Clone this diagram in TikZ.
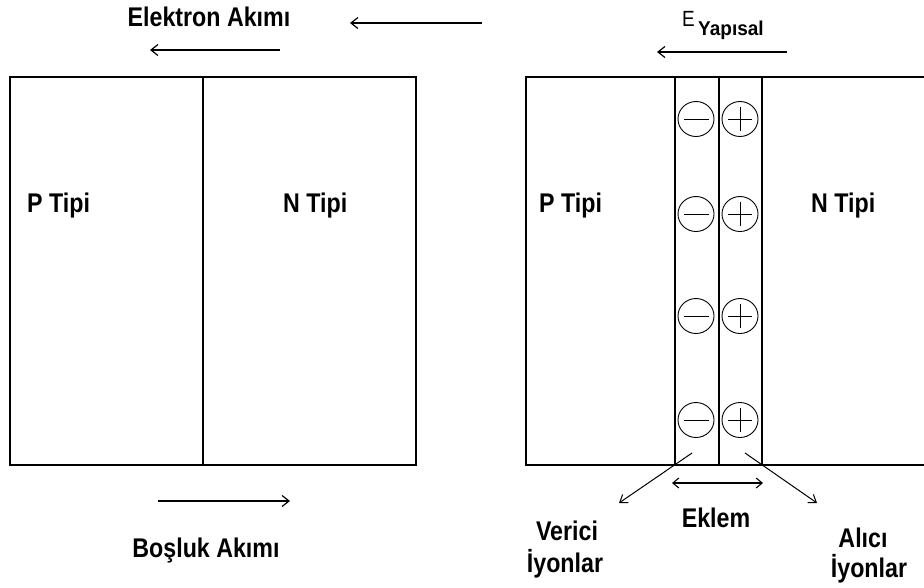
\documentclass[tikz,border=0pt]{standalone}
\usepackage{fontspec}
\setmainfont{Liberation Sans}
\newfontfamily\labfont{Liberation Sans}[FakeStretch=0.86]
\newfontfamily\subfont{Liberation Sans}[FakeStretch=0.95]
\usetikzlibrary{arrows.meta}
\tikzset{
  x=1pt,y=-1pt,
  lab/.style={inner sep=0pt,font=\labfont\bfseries\fontsize{27}{30}\selectfont},
  edge/.style={line width=1.4pt},
  thinl/.style={line width=0.9pt},
  arr/.style={line width=1.4pt,-{Straight Barb[length=7pt,width=11pt,line width=1.2pt]}},
  darr/.style={line width=1.3pt,{Straight Barb[length=6pt,width=10pt,line width=1.1pt]}-{Straight Barb[length=6pt,width=10pt,line width=1.1pt]}},
  iarr/.style={line width=1pt,-{Straight Barb[length=7pt,width=10pt,line width=1pt]}},
  ion/.style={ellipse,draw,line width=0.9pt,minimum width=36pt,minimum height=35pt,inner sep=0pt},
}
\usetikzlibrary{shapes.geometric}
\begin{document}
\begin{tikzpicture}
\useasboundingbox (0,0) rectangle (924,587);
% left box
\draw[edge] (10,77) rectangle (416,465);
\draw[edge] (203,77) -- (203,465);
% right box
\draw[edge] (924,77) -- (526,77) -- (526,465) -- (924,465);
\foreach \xx in {675,719,762} \draw[edge] (\xx,77) -- (\xx,465);
% ions
\foreach \yy [count=\i] in {119,214,316,420} {
  \node[ion] (m\i) at (696,\yy) {};
  \node[ion] (p\i) at (740,\yy) {};
  \draw[thinl] ([xshift=-12pt]m\i.center) -- ([xshift=13pt]m\i.center);
  \draw[thinl] ([xshift=-12pt]p\i.center) -- ([xshift=12pt]p\i.center);
  \draw[thinl] ([yshift=-12pt]p\i.center) -- ([yshift=12pt]p\i.center);
}
% labels
\node[lab,anchor=base west] (pl) at (27,212) {P Tipi};
\node[lab,anchor=base west] (nl) at (283,212) {N Tipi};
\node[lab,anchor=base west] (pr) at (539,212) {P Tipi};
\node[lab,anchor=base west] (nr) at (811,212) {N Tipi};
\node[lab,anchor=base] (ea) at (209,26) {Elektron Akımı};
\node[lab,anchor=base] (ba) at (206,557) {Boşluk Akımı};
\node[lab,anchor=base] (ek) at (716,527) {Eklem};
\node[inner sep=0pt,anchor=base west,font=\labfont\fontsize{22}{24}\selectfont] (E) at (682,26) {E};
\node[inner sep=0pt,anchor=base west,font=\subfont\bfseries\fontsize{20}{22}\selectfont] (Y) at (698,35) {Yapısal};
\node[lab,anchor=base] (v1) at (567,540) {Verici};
\node[lab,anchor=base] (v2) at (565,572) {İyonlar};
\node[lab,anchor=base] (a1) at (863,547) {Alıcı};
\node[lab,anchor=base] (a2) at (869,577) {İyonlar};
% arrows
\coordinate (e1s) at (280,50); \coordinate (e1e) at (150,50);
\coordinate (e2s) at (482,23); \coordinate (e2e) at (350,23);
\coordinate (ys) at (787,52); \coordinate (ye) at (657,52);
\coordinate (bs) at (158,501); \coordinate (be) at (290,501);
\coordinate (kl) at (672,483); \coordinate (kr) at (763,483);
\coordinate (vs) at (692,453); \coordinate (ve) at (619,503);
\coordinate (as) at (745,453); \coordinate (ae) at (817,503);
\draw[arr] (e1s) -- (e1e);
\draw[arr] (e2s) -- (e2e);
\draw[arr] (ys) -- (ye);
\draw[arr] (bs) -- (be);
\draw[darr] (kl) -- (kr);
\draw[iarr] (vs) -- (ve);
\draw[iarr] (as) -- (ae);
\end{tikzpicture}
\end{document}
